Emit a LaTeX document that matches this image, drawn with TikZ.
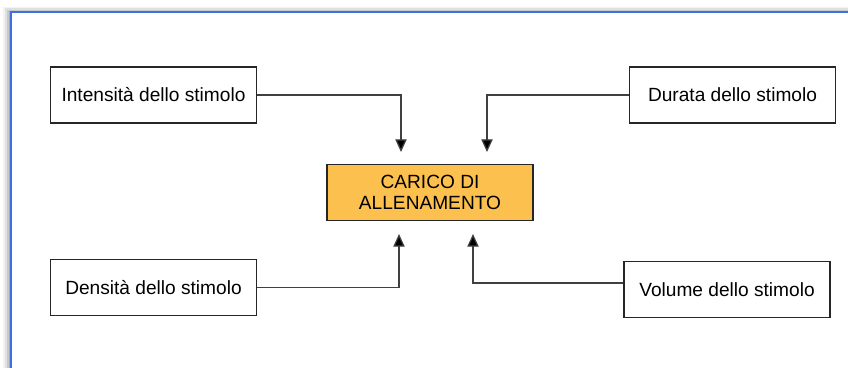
\documentclass[tikz,border=0pt]{standalone}
\usepackage{fontspec}
\setmainfont{Liberation Sans}
\usetikzlibrary{arrows.meta,calc}
\definecolor{frameblue}{HTML}{3D6FE6}
\definecolor{caricofill}{HTML}{FCC04E}
\tikzstyle{stimolo} = [rectangle, minimum width=5.15cm, minimum height=1.4cm, text centered, draw=black!85, line width=1pt, fill=white, font=\fontsize{13.6}{15}\selectfont]
\tikzstyle{carico} = [stimolo, fill=caricofill, align=center]
\tikzstyle{arrow} = [line width=0.9pt, draw=black!75, -{Triangle[length=9pt,width=8pt,fill=black]}]

\begin{document}
\begin{tikzpicture}[x=0.025cm, y=-0.025cm]

% page and frame
\useasboundingbox (0,0) rectangle (848,368);
\fill[white] (0,0) rectangle (848,368);
\foreach \s/\o in {8/0.05,6/0.07,4/0.1,2/0.15}
  \fill[black, opacity=\o] (11-\s,12-\s*0.6) rectangle (860,380);
\draw[frameblue, line width=1.1pt, fill=white] (11,12) rectangle (870,390);

\node (int) [stimolo] at (153.5,95) {Intensità dello stimolo};
\node (dur) [stimolo] at (732.5,95) {Durata dello stimolo};
\node (den) [stimolo] at (153.5,287.5) {Densità dello stimolo};
\node (vol) [stimolo] at (727,289.5) {Volume dello stimolo};
\node (car) [carico] at (430,192.5) {CARICO DI\\ALLENAMENTO};

\coordinate (int-in) at (401,152);
\coordinate (dur-in) at (487,152);
\coordinate (den-in) at (399,234);
\coordinate (vol-in) at (473,234);

\draw [arrow] (int.east) -| (int-in);
\draw [arrow] (dur.west) -| (dur-in);
\draw [arrow] (den.east) -| (den-in);
\draw [arrow] ([yshift=0.16cm]vol.west) -| (vol-in);

\end{tikzpicture}
\end{document}
